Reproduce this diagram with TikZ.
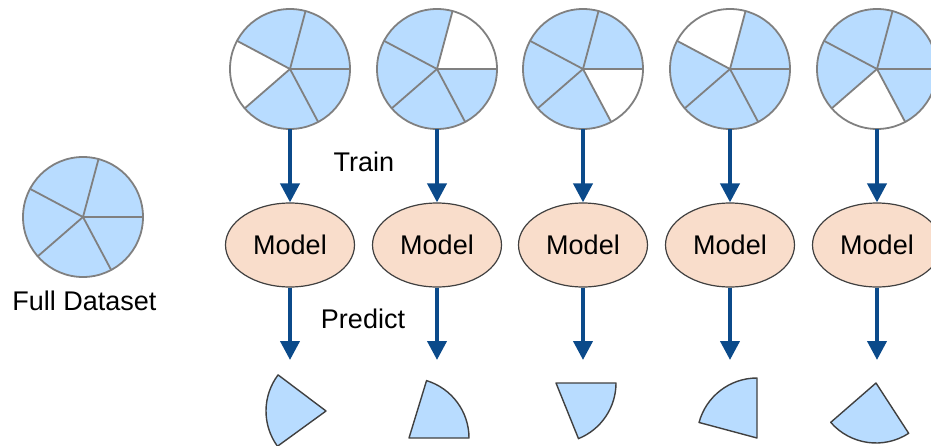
\documentclass[tikz,border=0pt]{standalone}
\usepackage{fontspec}
\setmainfont{Liberation Sans}
\usetikzlibrary{arrows.meta,shapes.geometric}
\definecolor{pieblue}{HTML}{B8DCFF}
\definecolor{piegray}{HTML}{808080}
\definecolor{peach}{HTML}{F9DDCB}
\definecolor{arrowblue}{HTML}{0B4A8A}
\definecolor{edgedark}{HTML}{404040}
\tikzset{
  lbl/.style={font=\fontsize{27}{32}\selectfont, inner sep=0pt},
  model/.style={ellipse, draw=edgedark, line width=1.2pt, fill=peach, minimum width=129pt, minimum height=84pt, inner sep=0pt, font=\fontsize{27}{32}\selectfont},
  pienode/.style={circle, minimum size=120pt, inner sep=0pt},
  flow/.style={draw=arrowblue, line width=4pt, -{Triangle[length=19pt,width=19pt]}},
  pieline/.style={draw=piegray, line width=1.8pt},
  slice/.style={fill=pieblue, draw=edgedark, line width=1.4pt, line join=round}
}
% #1 center, #2 white slice index (0 = none)
\newcommand{\mypie}[2]{%
  \foreach \a/\b/\k in {0/75/1,75/152/2,152/221/3,221/298/4,298/360/5}{%
    \ifnum\k=#2\relax
      \fill[white] (#1) -- ++(\a:60pt) arc[start angle=\a, end angle=\b, radius=60pt] -- cycle;
    \else
      \fill[pieblue] (#1) -- ++(\a:60pt) arc[start angle=\a, end angle=\b, radius=60pt] -- cycle;
    \fi
  }%
  \foreach \a in {0,75,152,221,298}{\draw[pieline] (#1) -- ++(\a:60pt);}%
  \draw[pieline] (#1) circle[radius=60pt];%
}
\newcommand{\myslice}[3]{%
  \draw[slice] (#1) -- ++(#2:60pt) arc[start angle=#2, end angle=#3, radius=60pt] -- cycle;%
}
\begin{document}
\begin{tikzpicture}[x=1pt,y=1pt]
\useasboundingbox (0,0) rectangle (931,445);
% full dataset
\node[pienode] (full) at (83,228) {};
\mypie{full.center}{0}
\node[lbl] (fulllbl) at (84.5,144) {Full Dataset};
% folds
\foreach \i/\x/\w in {1/290/3,2/437/1,3/583/5,4/730/2,5/877/4}{
  \node[pienode] (pie\i) at (\x,376) {};
  \mypie{pie\i.center}{\w}
  \node[model] (model\i) at (\x,200) {Model};
  \coordinate (pred\i) at (\x,85);
  \draw[flow] (pie\i.south) -- (model\i.north);
  \draw[flow] (model\i.south) -- (pred\i);
}
\node[lbl] (train) at (364,283) {Train};
\node[lbl] (predict) at (363,126) {Predict};
% predicted slices
\coordinate (s1) at (326,34);
\coordinate (s2) at (409,7);
\coordinate (s3) at (556,62);
\coordinate (s4) at (757,7);
\coordinate (s5) at (876,62);
\myslice{s1}{143}{216}
\myslice{s2}{0}{73}
\myslice{s3}{292}{360}
\myslice{s4}{90}{165}
\myslice{s5}{221}{303}
\end{tikzpicture}
\end{document}
